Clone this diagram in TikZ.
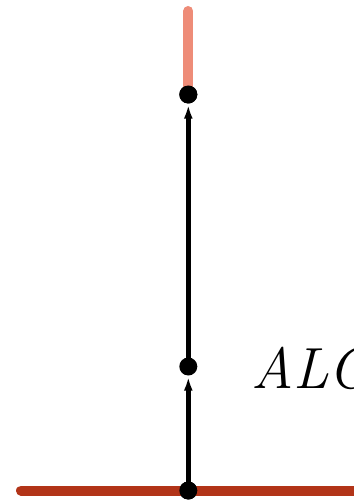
\documentclass[tikz,border=0pt]{standalone}
\usepackage{fontspec}
\usetikzlibrary{arrows.meta}
\definecolor{floorred}{RGB}{178,52,24}
\definecolor{salmon}{RGB}{238,140,120}
\tikzset{
  dot/.style={circle,fill=black,inner sep=0pt,minimum size=18pt},
  bar/.style={line width=10pt,line cap=round},
  link/.style={line width=4.5pt,-{Latex[length=14pt,width=9pt]},shorten >=1pt}
}
\begin{document}
\begin{tikzpicture}[x=1pt,y=-1pt]
  \useasboundingbox (0,0) rectangle (353,502);
  % base line and upper segment
  \coordinate (floorL) at (21,490.5);
  \coordinate (floorR) at (370,490.5);
  \coordinate (topEnd) at (188.3,11);
  \node[dot] (top) at (188.3,94.5) {};
  \node[dot] (mid) at (188.3,366.5) {};
  \node[dot] (bot) at (188.3,490.5) {};
  \draw[bar,floorred] (floorL) -- (floorR);
  \draw[bar,salmon] (topEnd) -- (top.center);
  \node[dot] at (bot) {};
  \node[dot] at (top) {};
  % arrows between the points
  \draw[link] (bot.center) -- (mid);
  \draw[link] (mid.center) -- (top);
  \node[anchor=base west,inner sep=0pt,font=\fontsize{58}{60}\selectfont\itshape] (alg) at (251,388) {ALG};
\end{tikzpicture}
\end{document}
